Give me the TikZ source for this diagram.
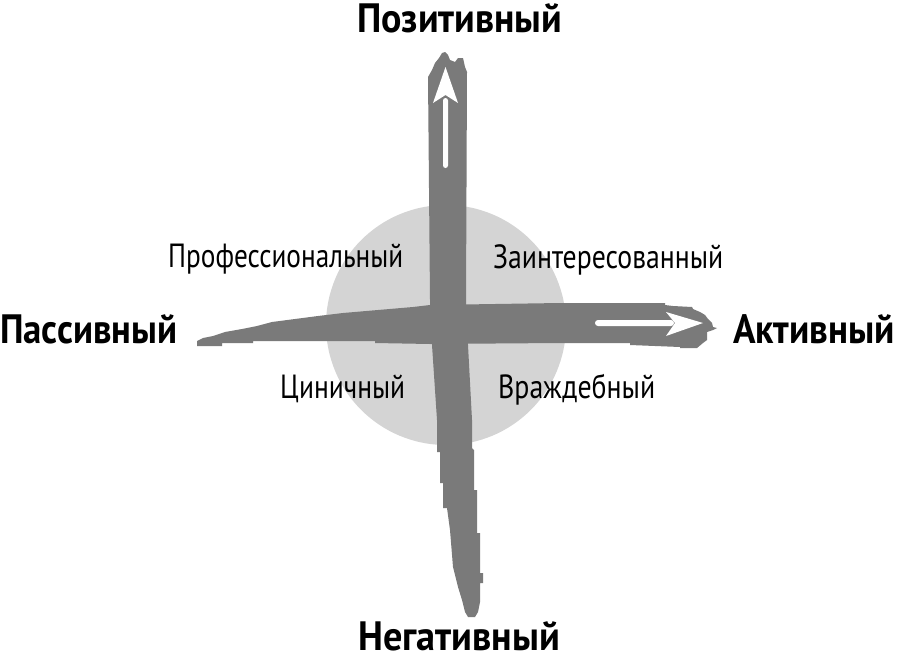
\documentclass[tikz,border=0pt]{standalone}
\usepackage{fontspec}
\setmainfont{PT Sans}
\usepackage{graphicx}
\definecolor{strokegray}{RGB}{122,122,122}
\definecolor{discgray}{RGB}{212,212,212}
\newcommand\fitto[2]{\resizebox{#1}{\height}{#2}}
\begin{document}
\begin{tikzpicture}[x=1pt,y=-1pt]
\tikzset{
  pole/.style={anchor=base west,inner sep=0pt,font=\fontsize{41}{41}\selectfont\bfseries},
  quad/.style={anchor=base west,inner sep=0pt,font=\fontsize{33.5}{34}\selectfont},
  brush/.style={fill=strokegray},
  whitearrow/.style={fill=white}
}
\useasboundingbox[fill=white] (0,0) rectangle (897,656);
% disc
\fill[discgray] (446,325) circle[radius=120pt];
% vertical brush stroke
\fill[brush] (428,77) -- (432,70) -- (435,63) -- (439,58) -- (442,53) -- (445,52) -- (448,55) -- (450,60) -- (455,62) -- (458,58) -- (463,58) -- (465,67) -- (467,72)
  -- (466,300) -- (468,345) -- (472,420) -- (472,448) -- (474,450) -- (474,490) -- (477,490) -- (477,533) -- (480,533) -- (480,573) -- (483,573) -- (483,583) -- (480,583) -- (480,602) -- (478,612) -- (475,617) -- (468,617)
  -- (465,612) -- (462,600) -- (458,587) -- (453,567) -- (450,530) -- (447,508) -- (443,508) -- (443,483) -- (440,483) -- (440,452) -- (437,452) -- (437,420) -- (432,345) -- (430,300) -- cycle;
% horizontal brush stroke
\fill[brush] (197,341) -- (203,338) -- (213,336) -- (225,332) -- (242,329) -- (257,326) -- (272,322) -- (295,319) -- (318,316) -- (343,313) -- (378,310) -- (413,307) -- (430,305) -- (560,303) -- (665,303) -- (665,305) -- (673,306) -- (692,307) -- (693,309) -- (700,312) -- (705,315) -- (708,319) -- (712,323) -- (713,327) -- (717,328)
  -- (713,330) -- (707,332) -- (707,340) -- (703,343) -- (697,348) -- (680,348) -- (680,347) -- (630,345) -- (630,343) -- (560,343) -- (430,344) -- (375,343) -- (375,341) -- (253,341) -- (253,343) -- (222,343) -- (222,346) -- (197,346) -- cycle;
% white arrows
\fill[whitearrow, rounded corners=2.5pt] (443,98) rectangle (448,168);
\fill[whitearrow] (433,103) -- (445.5,67) -- (458,103) -- (445.5,95) -- cycle;
\fill[whitearrow, rounded corners=3pt] (595,320) rectangle (674,326);
\fill[whitearrow] (666,312) -- (703,323) -- (666,336) -- (675,323) -- cycle;
% pole labels
\node[pole] (pos) at (357,32) {\fitto{205pt}{Позитивный}};
\node[pole] (neg) at (358,650.5) {\fitto{202pt}{Негативный}};
\node[pole] (pas) at (0,343) {\fitto{177pt}{Пассивный}};
\node[pole] (act) at (733,343) {\fitto{162pt}{Активный}};
% quadrant labels
\node[quad] (prof) at (168,267) {\fitto{235pt}{Профессиональный}};
\node[quad] (inter) at (493,268) {\fitto{230pt}{Заинтересованный}};
\node[quad] (cyn) at (280,398) {\fitto{125pt}{Циничный}};
\node[quad] (host) at (498,398) {\fitto{157pt}{Враждебный}};
\end{tikzpicture}
\end{document}
